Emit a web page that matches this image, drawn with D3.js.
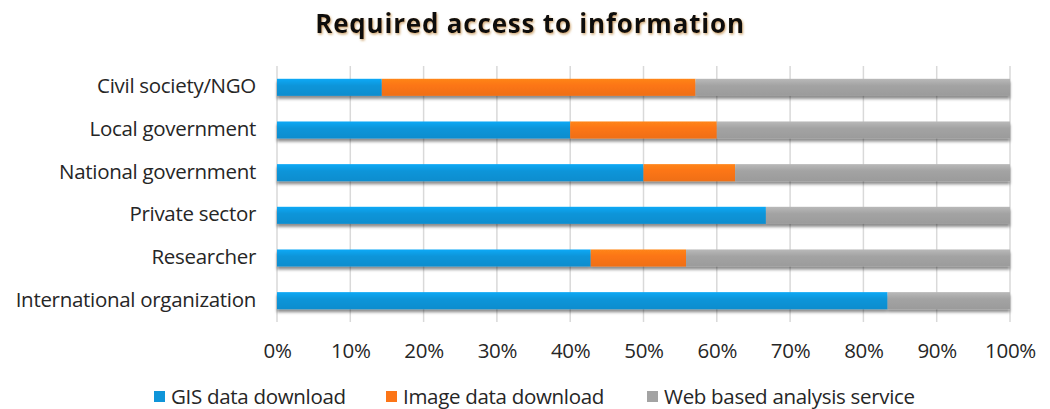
<!DOCTYPE html>
<html>
<head>
<meta charset="utf-8">
<title>Required access to information</title>
<style>
	body { margin: 0; background: #fff; }
	text { font-family: "Open Sans", "Liberation Sans", sans-serif; fill: #262626; }
</style>
</head>
<body>
<div id="chart"></div>
<script src="https://d3js.org/d3.v7.min.js"></script>
<script>
	var categories = ['Civil society/NGO', 'Local government', 'National government', 'Private sector', 'Researcher', 'International organization'];
	var seriesNames = ['GIS data download', 'Image data download', 'Web based analysis service'];
	var gisValues = [14.3, 40, 50, 66.7, 42.8, 83.3];
	var imageValues = [42.8, 20, 12.5, 0, 13.0, 0];
	var webValues = [42.9, 40, 37.5, 33.3, 44.2, 16.7];
	var tickValues = [0, 10, 20, 30, 40, 50, 60, 70, 80, 90, 100];
	var colors = ['#0f95d9', '#fc7517', '#a3a3a3'];

	var width = 1050, height = 409;
	var plotLeft = 277, plotRight = 1010, plotTop = 66, plotBottom = 322;
	var fontSize = 20.5;

	var svg = d3.select('#chart').append('svg')
		.attr('width', width)
		.attr('height', height);

	var defs = svg.append('defs');
	var shadow = defs.append('filter').attr('id', 'shadow')
		.attr('x', '-5%').attr('y', '-30%').attr('width', '110%').attr('height', '190%');
	shadow.append('feDropShadow')
		.attr('dx', 0).attr('dy', 3).attr('stdDeviation', 1.6)
		.attr('flood-color', '#000').attr('flood-opacity', 0.45);

	var titleShadow = defs.append('filter').attr('id', 'tshadow');
	titleShadow.append('feDropShadow')
		.attr('dx', 1).attr('dy', 1.5).attr('stdDeviation', 1)
		.attr('flood-color', '#b07020').attr('flood-opacity', 0.6);

	// gloss on bars
	colors.forEach(function(c, i){
		var g = defs.append('linearGradient').attr('id', 'grad' + i)
			.attr('x1', 0).attr('y1', 0).attr('x2', 0).attr('y2', 1);
		g.append('stop').attr('offset', '0%').attr('stop-color', d3.color(c).brighter(0.35));
		g.append('stop').attr('offset', '40%').attr('stop-color', c);
		g.append('stop').attr('offset', '100%').attr('stop-color', d3.color(c).darker(0.15));
	});

	var x = d3.scaleLinear().domain([0, 100]).range([plotLeft, plotRight]);
	var y = d3.scaleBand().domain(categories).range([plotTop, plotBottom]).paddingInner(0.6).paddingOuter(0.3);

	// grid
	svg.append('g')
		.selectAll('line')
		.data(tickValues)
		.enter()
		.append('line')
		.attr('x1', function(d){ return x(d); })
		.attr('x2', function(d){ return x(d); })
		.attr('y1', plotTop)
		.attr('y2', plotBottom)
		.attr('stroke', '#d9d9d9')
		.attr('stroke-width', 1.5);

	var table = categories.map(function(c, i){
		return { cat: c, gis: gisValues[i], image: imageValues[i], web: webValues[i] };
	});
	var stacked = d3.stack().keys(['gis', 'image', 'web'])(table);

	var rows = svg.append('g').attr('filter', 'url(#shadow)');
	stacked.forEach(function(layer, i){
		rows.selectAll('.s' + i)
			.data(layer)
			.enter()
			.append('rect')
			.attr('class', 's' + i)
			.attr('x', function(d){ return x(d[0]); })
			.attr('width', function(d){ return Math.max(0, x(d[1]) - x(d[0])); })
			.attr('y', function(d){ return y(d.data.cat); })
			.attr('height', y.bandwidth())
			.attr('fill', 'url(#grad' + i + ')');
	});

	// category labels
	var yAxis = svg.append('g')
		.attr('transform', 'translate(' + (plotLeft - 21) + ',0)')
		.call(d3.axisLeft(y).tickSize(0).tickPadding(0));
	yAxis.select('.domain').remove();
	yAxis.selectAll('text')
		.attr('font-size', fontSize)
		.attr('font-family', 'Open Sans')
		.attr('fill', '#262626')
		.attr('dy', '0.3em')
		.style('letter-spacing', '-0.3px');

	// x tick labels
	var xAxis = svg.append('g')
		.attr('transform', 'translate(0,' + (plotBottom + 18) + ')')
		.call(d3.axisBottom(x).tickValues(tickValues).tickSize(0).tickFormat(function(d){ return d + '%'; }));
	xAxis.select('.domain').remove();
	xAxis.selectAll('text')
		.attr('font-size', fontSize)
		.attr('font-family', 'Open Sans')
		.attr('fill', '#262626')
		.style('letter-spacing', '-0.3px');

	// title
	svg.append('text')
		.attr('x', 530)
		.attr('y', 33)
		.attr('text-anchor', 'middle')
		.attr('font-size', 26)
		.attr('font-weight', 'bold')
		.attr('filter', 'url(#tshadow)')
		.style('fill', '#111')
		.style('letter-spacing', '0.8px')
		.text('Required access to information');

	// legend
	var legendX = [154, 386, 647];
	var legend = svg.append('g')
		.selectAll('g')
		.data(seriesNames)
		.enter()
		.append('g')
		.attr('transform', function(d, i){ return 'translate(' + legendX[i] + ',397)'; });
	legend.append('rect')
		.attr('x', 0).attr('y', -6)
		.attr('width', 11).attr('height', 11)
		.attr('fill', function(d, i){ return colors[i]; });
	legend.append('text')
		.attr('x', 17)
		.attr('dy', '0.35em')
		.attr('font-size', fontSize)
		.style('letter-spacing', '-0.3px')
		.text(function(d){ return d; });
</script>
</body>
</html>
